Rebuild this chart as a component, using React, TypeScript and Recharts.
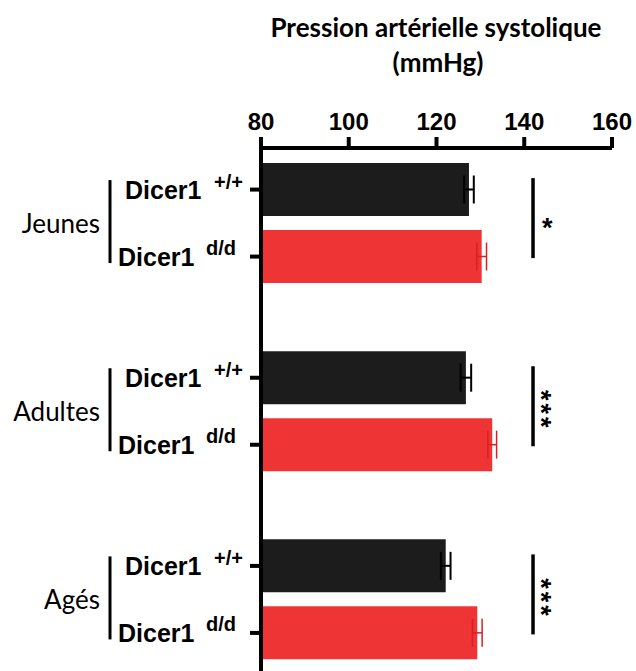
import { BarChart, Bar, XAxis, YAxis, ErrorBar } from "recharts";

const groups = ["Jeunes", "Adultes", "Agés"];
const wildType = [127.4, 126.7, 122.1];
const wildTypeErr = [1.1, 1.2, 1.1];
const mutant = [130.3, 132.7, 129.3];
const mutantErr = [1.1, 1.0, 1.1];
const significance = ["*", "***", "***"];
const xTicks = [80, 100, 120, 140, 160];

const data = groups.map((g, i) => ({
  group: g,
  wt: wildType[i],
  wtErr: wildTypeErr[i],
  ko: mutant[i],
  koErr: mutantErr[i],
}));

const W = 636;
const H = 671;
const MARGIN = { top: 80, right: 24, bottom: 0, left: 0 };
const Y_AXIS_W = 261;
const BAR_SIZE = 53;
const BAR_GAP = 14;
const X_MIN = 80;
const X_MAX = 160;
const PLOT_W = W - MARGIN.right - Y_AXIS_W;
const xPix = (v: number) => Y_AXIS_W + ((v - X_MIN) / (X_MAX - X_MIN)) * PLOT_W;

const ARIAL = "'Liberation Sans', Arial, sans-serif";
const CALIBRI = "Lato, 'Open Sans', sans-serif";

// draws the left labels, the genotype ticks and the significance marks of one age group
const GroupTick = (props: any) => {
  const { y, payload, index } = props;
  const half = (BAR_SIZE + BAR_GAP) / 2;
  const y1 = y - half;
  const y2 = y + half;
  const sig = significance[index] || "";
  const sx = xPix(142);
  return (
    <g>
      <line x1={Y_AXIS_W - 11} x2={Y_AXIS_W} y1={y1} y2={y1} stroke="#000" strokeWidth={4} />
      <line x1={Y_AXIS_W - 11} x2={Y_AXIS_W} y1={y2} y2={y2} stroke="#000" strokeWidth={4} />
      <text x={125} y={y1 + 9.5} fontFamily={ARIAL} fontWeight="bold" fontSize={25} fill="#000">
        Dicer1
      </text>
      <text x={214} y={y1 - 1} fontFamily={ARIAL} fontWeight="bold" fontSize={20} fill="#000">
        +/+
      </text>
      <text x={118} y={y2 + 9} fontFamily={ARIAL} fontWeight="bold" fontSize={25} fill="#000">
        Dicer1
      </text>
      <text x={206} y={y2 - 2} fontFamily={ARIAL} fontWeight="bold" fontSize={20} fill="#000">
        d/d
      </text>
      <text x={100} y={y + 10} textAnchor="end" fontFamily={CALIBRI} fontSize={26} fill="#000">
        {payload.value}
      </text>
      <line x1={110} x2={110} y1={y - 43} y2={y + 40} stroke="#000" strokeWidth={3} />
      <line x1={sx} x2={sx} y1={y - 45} y2={y + 35} stroke="#000" strokeWidth={3.5} />
      {sig.length === 1 ? (
        <text x={sx + 9} y={y + 14} fontFamily={ARIAL} fontWeight="bold" fontSize={27} fill="#000">
          {sig}
        </text>
      ) : (
        <text
          x={sx - 1}
          y={y - 1}
          textAnchor="middle"
          transform={`rotate(90 ${sx - 1} ${y - 1})`}
          fontFamily={ARIAL}
          fontWeight="bold"
          fontSize={27}
          letterSpacing={3}
          fill="#000"
        >
          {sig}
        </text>
      )}
    </g>
  );
};

export default function App() {
  return (
    <div
      style={{
        position: "absolute",
        left: 0,
        top: 0,
        width: W,
        height: H,
        overflow: "hidden",
        background: "#fff",
      }}
    >
      <svg width={W} height={80} style={{ position: "absolute", left: 0, top: 0 }}>
        <text x={436} y={37} textAnchor="middle" fontFamily={CALIBRI} fontWeight="bold" fontSize={26} fill="#000">
          Pression artérielle systolique
        </text>
        <text x={438} y={72} textAnchor="middle" fontFamily={CALIBRI} fontWeight="bold" fontSize={26} fill="#000">
          (mmHg)
        </text>
      </svg>
      <BarChart
        width={W}
        height={H}
        data={data}
        layout="vertical"
        margin={MARGIN}
        barGap={BAR_GAP}
      >
        <XAxis
          type="number"
          orientation="top"
          domain={[X_MIN, X_MAX]}
          ticks={xTicks}
          height={68}
          tickSize={11}
          tickMargin={7}
          axisLine={{ stroke: "#000", strokeWidth: 4 }}
          tickLine={{ stroke: "#000", strokeWidth: 4 }}
          tick={{ fill: "#000", fontSize: 24, fontWeight: "bold", fontFamily: ARIAL }}
        />
        <YAxis
          type="category"
          dataKey="group"
          width={Y_AXIS_W}
          interval={0}
          tickLine={false}
          axisLine={{ stroke: "#000", strokeWidth: 4 }}
          padding={{ top: -19, bottom: -22.5 }}
          tick={<GroupTick />}
        />
        <Bar dataKey="wt" fill="#1c1c1c" barSize={BAR_SIZE} isAnimationActive={false}>
          <ErrorBar dataKey="wtErr" direction="x" width={14} stroke="#000" strokeWidth={2} />
        </Bar>
        <Bar dataKey="ko" fill="#ee3434" barSize={BAR_SIZE} isAnimationActive={false}>
          <ErrorBar dataKey="koErr" direction="x" width={14} stroke="#d92020" strokeWidth={1.5} />
        </Bar>
      </BarChart>
    </div>
  );
}
